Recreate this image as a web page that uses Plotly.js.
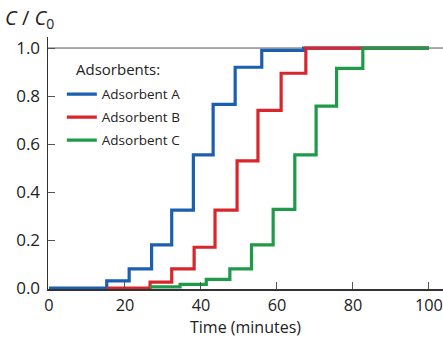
<!DOCTYPE html>
<html>
<head>
<meta charset="utf-8">
<script src="https://cdn.plot.ly/plotly-3.0.1.min.js"></script>
<style>html,body{margin:0;padding:0;background:#fff;}#chart{width:443px;height:338px;}</style>
</head>
<body>
<div id="chart"></div>
<script>
// Time (minutes) at which each step occurs, and C/C0 level after the step
const timeA = [0, 15.2, 21.1, 27.0, 32.3, 38.0, 43.2, 49.0, 56.0, 67.0, 100];
const levelA = [0, 0.03, 0.08, 0.18, 0.325, 0.555, 0.765, 0.92, 0.99, 1.0, 1.0];
const timeB = [15.2, 26.6, 32.3, 38.2, 43.7, 49.5, 55.0, 61.1, 67.6, 100];
const levelB = [0, 0.025, 0.08, 0.17, 0.325, 0.53, 0.74, 0.895, 1.0, 1.0];
const timeC = [26.6, 34.5, 41.4, 47.6, 53.3, 59.0, 64.7, 70.3, 75.7, 82.6, 100];
const levelC = [0.005, 0.015, 0.036, 0.08, 0.18, 0.328, 0.555, 0.758, 0.915, 1.0, 1.0];
const seriesNames = ['Adsorbent A', 'Adsorbent B', 'Adsorbent C'];
const seriesColors = ['#1a5fb0', '#d8262c', '#1f9a48'];
const xTicks = [0, 20, 40, 60, 80, 100];
const yTicks = [0, 0.2, 0.4, 0.6, 0.8, 1.0];

const FONT = 'Open Sans, Noto Sans, sans-serif';
const xs = [timeA, timeB, timeC];
const ys = [levelA, levelB, levelC];
const traces = xs.map((x, i) => ({
  x: x, y: ys[i], type: 'scatter', mode: 'lines', name: seriesNames[i],
  legendgroup: 'g' + i,
  line: {shape: 'hv', color: seriesColors[i], width: 3.2},
  hoverinfo: 'skip'
}));

const layout = {
  width: 443, height: 338,
  margin: {l: 48, r: 0, t: 37, b: 49},
  paper_bgcolor: '#fff', plot_bgcolor: '#fff',
  font: {family: FONT, color: '#222', size: 14},
  showlegend: true,
  legend: {
    x: 0.035, y: 0.834, xanchor: 'left', yanchor: 'top',
    bgcolor: 'rgba(0,0,0,0)', font: {size: 13.5, color: '#222'},
    tracegroupgap: 2.5, itemwidth: 30
  },
  xaxis: {
    range: [-0.26, 103.7], tickvals: xTicks, ticktext: xTicks.map(String),
    ticks: 'inside', ticklen: 7, tickcolor: '#555', tickwidth: 1,
    showline: true, linecolor: '#333', linewidth: 1.5, showgrid: false, zeroline: false,
    tickfont: {size: 16.3, color: '#222'}, ticklabelstandoff: 1,
    title: {text: 'Time (minutes)', font: {size: 16, color: '#222'}, standoff: 6}
  },
  yaxis: {
    range: [-0.004, 1.046], tickvals: yTicks, ticktext: yTicks.map(v => v.toFixed(1)),
    ticks: 'inside', ticklen: 7, tickcolor: '#555', tickwidth: 1,
    showline: true, linecolor: '#333', linewidth: 1.5, showgrid: false, zeroline: false,
    tickfont: {size: 17, color: '#222'}, ticklabelstandoff: 3
  },
  shapes: [{
    type: 'line', xref: 'paper', yref: 'y', x0: 0, x1: 1, y0: 1, y1: 1,
    line: {color: '#555', width: 1}, layer: 'below'
  }],
  annotations: [{
    xref: 'paper', yref: 'paper', x: 0, y: 1, xanchor: 'right', yanchor: 'bottom',
    xshift: 8, yshift: 2, showarrow: false,
    text: '<i>C</i> / <i>C</i><sub>0</sub>', font: {size: 20, color: '#222', family: FONT}
  }, {
    xref: 'paper', yref: 'paper', x: (74 - 48) / 395, y: (289 - 69) / 252,
    xanchor: 'left', yanchor: 'middle', showarrow: false,
    text: 'Adsorbents:', font: {size: 15, color: '#222', family: FONT}
  }]
};

Plotly.newPlot('chart', traces, layout, {staticPlot: true, displayModeBar: false});
</script>
</body>
</html>
